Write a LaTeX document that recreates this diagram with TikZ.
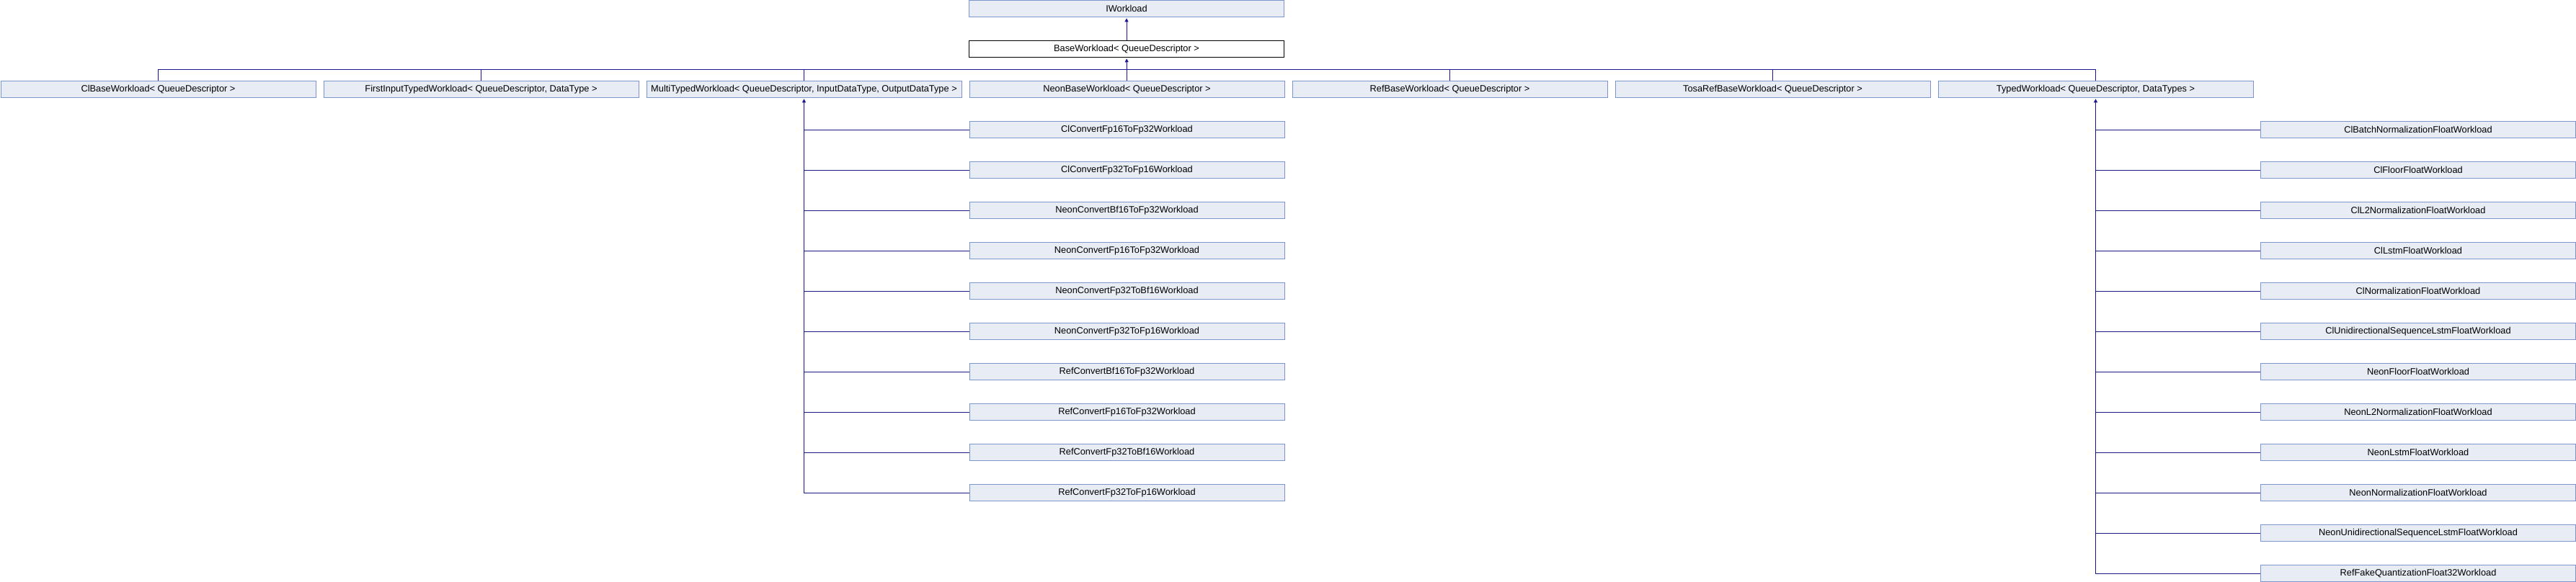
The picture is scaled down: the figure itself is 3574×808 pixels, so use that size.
\documentclass[tikz,border=0pt]{standalone}
\usepackage{fontspec}
\setmainfont{Liberation Sans}
\usetikzlibrary{arrows.meta}
\definecolor{boxfill}{RGB}{232,236,245}
\definecolor{boxline}{RGB}{124,149,203}
\definecolor{conn}{RGB}{25,25,140}
\begin{document}
\begin{tikzpicture}[x=1pt,y=-1pt,
  cls/.style={draw=boxline,fill=boxfill,line width=1pt,minimum width=437pt,minimum height=22.6pt,inner sep=0pt,font=\fontsize{12.8}{14}\selectfont,anchor=center},
  cur/.style={cls,draw=black,fill=white},
  link/.style={draw=conn,line width=1pt},
  arr/.style={link,-{Triangle[length=5pt,width=5pt]},shorten >=1.5pt}]
\useasboundingbox (0,0) rectangle (3574,808);
% top
\node[cls] (iw) at (1563,12) {IWorkload};
\node[cur] (base) at (1563,68) {BaseWorkload< QueueDescriptor >};
% row 2
\node[cls] (clb) at (219.5,124) {ClBaseWorkload< QueueDescriptor >};
\node[cls] (fit) at (667.5,124) {FirstInputTypedWorkload< QueueDescriptor, DataType >};
\node[cls] (mtw) at (1115.5,124) {MultiTypedWorkload< QueueDescriptor, InputDataType, OutputDataType >};
\node[cls] (nbw) at (1563.5,124) {NeonBaseWorkload< QueueDescriptor >};
\node[cls] (rbw) at (2011.5,124) {RefBaseWorkload< QueueDescriptor >};
\node[cls] (trbw) at (2459.5,124) {TosaRefBaseWorkload< QueueDescriptor >};
\node[cls] (tw) at (2907.5,124) {TypedWorkload< QueueDescriptor, DataTypes >};
% left children
\foreach \t [count=\i] in {ClConvertFp16ToFp32Workload,ClConvertFp32ToFp16Workload,NeonConvertBf16ToFp32Workload,NeonConvertFp16ToFp32Workload,NeonConvertFp32ToBf16Workload,NeonConvertFp32ToFp16Workload,RefConvertBf16ToFp32Workload,RefConvertFp16ToFp32Workload,RefConvertFp32ToBf16Workload,RefConvertFp32ToFp16Workload}
  {\node[cls] (L\i) at (1563.5,{124+56*\i}) {\t};}
% right children
\foreach \t [count=\i] in {ClBatchNormalizationFloatWorkload,ClFloorFloatWorkload,ClL2NormalizationFloatWorkload,ClLstmFloatWorkload,ClNormalizationFloatWorkload,ClUnidirectionalSequenceLstmFloatWorkload,NeonFloorFloatWorkload,NeonL2NormalizationFloatWorkload,NeonLstmFloatWorkload,NeonNormalizationFloatWorkload,NeonUnidirectionalSequenceLstmFloatWorkload,RefFakeQuantizationFloat32Workload}
  {\node[cls] (R\i) at (3355,{124+56*\i}) {\t};}
% connectors
\draw[arr] (base.north) -- (iw.south);
\coordinate (bus) at (1563.5,96);
\foreach \n in {clb,fit,mtw,nbw,rbw,trbw,tw}
  {\draw[link] (\n.north) -- (\n.north |- bus);}
\draw[link] (clb.north |- bus) -- (tw.north |- bus);
\draw[arr] (bus) -- (base.south);
\foreach \i in {1,...,9}
  {\draw[link] (L\i.west) -- (L\i.west -| mtw.south);}
\draw[arr] (L10.west) -| (mtw.south);
\foreach \i in {1,...,11}
  {\draw[link] (R\i.west) -- (R\i.west -| tw.south);}
\draw[arr] (R12.west) -| (tw.south);
\end{tikzpicture}
\end{document}
